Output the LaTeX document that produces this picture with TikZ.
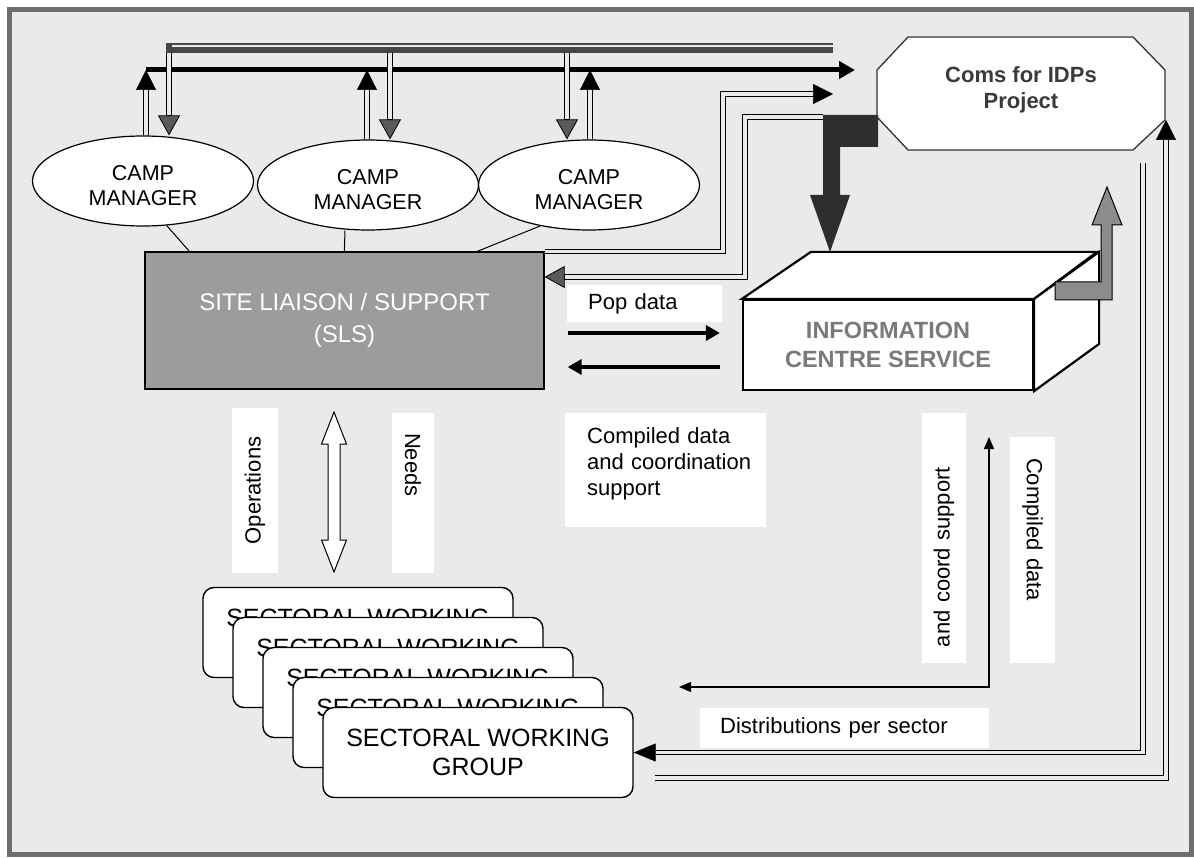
\documentclass[tikz,border=0pt]{standalone}
\usepackage{fontspec}
\setmainfont{Liberation Sans}
\usetikzlibrary{arrows.meta,shapes.geometric}
\definecolor{bg}{HTML}{EAEAEA}
\definecolor{framec}{HTML}{6E6E6E}
\definecolor{slsgray}{HTML}{9C9C9C}
\definecolor{darkblk}{HTML}{2E2E2E}
\definecolor{midgray}{HTML}{8C8C8C}
\definecolor{tipgray}{HTML}{5A5A5A}
\definecolor{icstext}{HTML}{7A7A7A}
\definecolor{octtext}{HTML}{3A3A3A}
\newcommand{\dblpath}[3]{%
  \draw[dblout,#1] #3;
  \draw[dblin,shorten >=#2] #3;}
\begin{document}
\begin{tikzpicture}[x=1pt,y=-1pt,line join=miter,
  camp/.style={ellipse,draw=black,line width=1.2pt,fill=white,minimum width=221pt,minimum height=90pt,inner sep=0pt,align=center,text height=50pt,font=\fontsize{21.5}{25}\selectfont},
  card/.style={draw=black,line width=1.4pt,fill=white,rounded corners=11pt,minimum width=310pt,minimum height=90pt,inner sep=0pt,align=center,font=\fontsize{25}{29}\selectfont},
  lbl/.style={fill=white,inner ysep=0pt,align=left,font=\fontsize{22}{26}\selectfont},
  dblout/.style={draw=black,line width=5.6pt},
  dblin/.style={draw=bg,line width=3.2pt},
  tipK/.style={-{Triangle[length=20pt,width=20pt,line width=0.5pt]}},
  tipG/.style={-{Triangle[length=20pt,width=22pt,line width=0.8pt,fill=tipgray]}},
  tipS/.style={-{Triangle[length=22pt,width=18pt,line width=0.5pt]}},
  thinl/.style={draw=black,line width=1pt},
  fat/.style={draw=black,line width=4.5pt,-{Triangle[length=14pt,width=15pt]}}
]
\useasboundingbox (0,0) rectangle (1194,858);
\fill[white] (0,0) rectangle (1194,858);
\fill[bg] (9,10) rectangle (1191,854);
\draw[framec,line width=5pt] (9,10) rectangle (1191,854);

% named coordinates (free ends)
\coordinate (busAl) at (166,48);
\coordinate (busAr) at (833,48);
\coordinate (busBl) at (146,70);
\coordinate (busBr) at (855,70);
\coordinate (d1) at (169,53);
\coordinate (d2) at (390,53);
\coordinate (d3) at (567,53);
\coordinate (u1) at (146,70);
\coordinate (u2) at (367,70);
\coordinate (u3) at (590,70);
\coordinate (aC) at (723,94);
\coordinate (aE) at (833,94);
\coordinate (bS) at (823,117);
\coordinate (bC) at (745,277);
\coordinate (octSE) at (1166,120);
\coordinate (inS) at (1143,163);
\coordinate (outS) at (655,778);
\coordinate (tA) at (989,437);
\coordinate (tB) at (679,687);

% top gray bus
\draw[line width=10pt,draw=black!72] (busAl) -- (busAr);
\fill[bg] (172,45) rectangle (833,47);
% black bus
\draw[line width=5pt,draw=black,-{Triangle[length=16pt,width=17pt]}] (busBl) -- (busBr);

% camp managers
\node[camp] (c1) at (143,181) {CAMP\\MANAGER};
\node[camp] (c2) at (368,185) {CAMP\\MANAGER};
\node[camp] (c3) at (589,185) {CAMP\\MANAGER};

% stubs
\dblpath{tipK}{20pt}{([xshift=3pt]c1.north) -- (u1)}
\dblpath{tipG}{20pt}{(d1) -- ([xshift=26pt]c1.north)}
\dblpath{tipK}{20pt}{([xshift=-1pt]c2.north) -- (u2)}
\dblpath{tipG}{20pt}{(d2) -- ([xshift=22pt]c2.north)}
\dblpath{tipG}{20pt}{(d3) -- ([xshift=-22pt]c3.north)}
\dblpath{tipK}{20pt}{([xshift=1pt]c3.north) -- (u3)}

% SLS
\node[draw=black,line width=1.3pt,fill=slsgray,minimum width=399pt,minimum height=137pt,inner sep=0pt,align=center,text=white,font=\fontsize{24}{32}\selectfont] (sls) at (344.5,320.5) {SITE LIAISON / SUPPORT\\(SLS)};
\draw[thinl] (c1.-62) -- ([xshift=45pt]sls.north west);
\draw[thinl] ([xshift=-23pt]c2.south) -- ([xshift=200pt]sls.north west);
\draw[thinl] (c3.220) -- ([xshift=333pt]sls.north west);

% SLS <-> IDP double paths
\dblpath{tipK}{20pt}{(sls.north east) -| (aC) -- (aE)}
\dblpath{tipG}{20pt}{(bS) -| (bC) -- (sls.east |- bC)}

% ICS box
\node[draw=black,line width=2.2pt,fill=white,minimum width=290pt,minimum height=90pt,inner sep=0pt,align=center,text=icstext,font=\fontsize{23.5}{29}\selectfont\bfseries] (ics) at (888,345) {INFORMATION\\CENTRE SERVICE};
\filldraw[fill=white,draw=black,line width=2.2pt] (ics.north west) -- ++(69,-47) -- ++(286,0) -- (ics.north east) -- cycle;
\filldraw[fill=white,draw=black,line width=2.2pt] (ics.north east) -- ++(65,-47) -- ++(0,92) -- (ics.south east) -- cycle;

% octagon
\filldraw[fill=white,draw=black!80,line width=1.3pt] (908,37) -- (1133,37) -- (1165,70) -- (1165,120) -- (1133,150) -- (908,150) -- (877,117) -- (877,70) -- cycle;
\node[align=center,text=octtext,font=\fontsize{22}{26}\selectfont\bfseries] (oct) at (1021,90) {Coms for IDPs\\Project};

% big dark arrow
\fill[darkblk] (823,115) -- (878,115) -- (878,147) -- (840,147) -- (840,195) -- (850,195) -- (830,252) -- (810,195) -- (823,195) -- cycle;
% gray L arrow
\filldraw[fill=midgray,draw=black,line width=1pt] (1055,282) -- (1101,282) -- (1101,225) -- (1092,225) -- (1107,187) -- (1122,225) -- (1112,225) -- (1112,300) -- (1055,300) -- cycle;

% pop data arrows
\draw[fat,shorten <=23pt,shorten >=22pt] ([yshift=-12.5pt]sls.east) -- ([yshift=12pt]ics.west);
\draw[fat,shorten <=22pt,shorten >=23pt] ([yshift=-22pt]ics.west) -- ([yshift=-46.5pt]sls.east);

% labels
\node[lbl,anchor=north west,inner xsep=21pt,text width=113pt,minimum height=37pt] (pop) at (567,285) {Pop data};
\node[lbl,anchor=north west,inner xsep=22pt,text width=157pt,minimum height=114pt,text depth=69pt] (cds) at (565,413) {Compiled data\\\mbox{and coordination}\\support};
\node[lbl,rotate=90,inner xsep=0pt,minimum width=165pt,minimum height=46pt,align=center] (ops) at (255,490.5) {Operations};
\node[lbl,rotate=-90,inner xsep=20pt,text width=120pt,minimum height=42pt] (needs) at (413,493) {Needs};
\node[lbl,rotate=90,inner xsep=16pt,text width=218pt,minimum height=44pt] (acs) at (944,538) {and coord support};
\node[lbl,rotate=-90,inner xsep=21pt,text width=184pt,minimum height=45pt] (cdl) at (1032.5,550) {Compiled data};
\node[lbl,anchor=north west,inner xsep=20pt,text width=249pt,minimum height=40pt] (dist) at (700,708) {Distributions per sector};

% sectoral working groups
\node[card] (s1) at (358,632.5) {SECTORAL WORKING\\GROUP};
\node[card] (s2) at (388,662.5) {SECTORAL WORKING\\GROUP};
\node[card] (s3) at (418,692.5) {SECTORAL WORKING\\GROUP};
\node[card] (s4) at (448,722.5) {SECTORAL WORKING\\GROUP};
\node[card] (s5) at (478,752.5) {SECTORAL WORKING\\GROUP};

% white double arrow SLS <-> SWG
\filldraw[fill=white,draw=black,line width=1pt] (334,412) -- (346.5,444) -- (340,444) -- (340,540) -- (346.5,540) -- (334,572) -- (321.5,540) -- (328,540) -- (328,444) -- (321.5,444) -- cycle;

% right side double paths
\dblpath{tipS}{22pt}{(inS) |- (s5.east)}
\dblpath{tipK}{20pt}{(outS) -| (octSE)}

% thin double-headed connector
\draw[line width=1.3pt,{Triangle[length=12pt,width=10pt]}-{Triangle[length=12pt,width=10pt]}] (tB) -| (tA);
\end{tikzpicture}
\end{document}
